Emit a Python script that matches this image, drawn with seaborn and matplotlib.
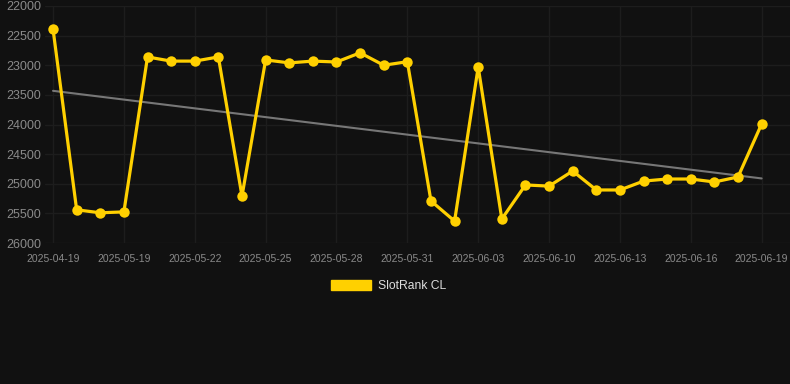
import numpy as np
import pandas as pd
import matplotlib
matplotlib.use("Agg")
import matplotlib.pyplot as plt
import seaborn as sns
from matplotlib.patches import Patch

# data (rank, lower is better -> inverted axis)
tick_labels = ["2025-04-19", "2025-05-19", "2025-05-22", "2025-05-25", "2025-05-28",
               "2025-05-31", "2025-06-03", "2025-06-10", "2025-06-13", "2025-06-16",
               "2025-06-19"]
rank_values = [22390, 25440, 25490, 25475, 22860, 22930, 22930, 22860, 25210, 22910,
               22960, 22930, 22945, 22790, 23000, 22940, 25290, 25630, 23030, 25595,
               25020, 25040, 24785, 25105, 25105, 24955, 24920, 24920, 24970, 24885,
               23990]
series_name = "SlotRank CL"

df = pd.DataFrame({"idx": np.arange(len(rank_values)), "rank": rank_values})

# linear trend over the series
coef = np.polyfit(df["idx"], df["rank"], 1)
df["trend"] = np.polyval(coef, df["idx"])

sns.set_theme(style="dark")
plt.rcParams["font.family"] = ["Liberation Sans", "DejaVu Sans"]

bg = "#111111"
gold = "#FFD000"
fig = plt.figure(figsize=(7.9, 3.84), dpi=100, facecolor=bg)
ax = fig.add_axes([45 / 790, 141 / 384, 745 / 790, 237 / 384])
ax.set_facecolor(bg)

sns.lineplot(data=df, x="idx", y="trend", ax=ax, color="#777777", linewidth=1.5)
sns.lineplot(data=df, x="idx", y="rank", ax=ax, color=gold, linewidth=2.3,
             marker="o", markersize=7.5, markeredgewidth=0)

ax.set_ylim(26000, 22000)
ax.set_yticks(np.arange(22000, 26001, 500))
ax.set_xlim(-0.34, 31.2)
ax.set_xticks(np.arange(0, len(rank_values), 3))
ax.set_xticklabels(tick_labels)
ax.grid(True, color="#1d1d1d", linewidth=1.0)
ax.tick_params(axis="y", colors="#8a8a8a", labelsize=9, length=0, pad=3)
ax.tick_params(axis="x", colors="#8a8a8a", labelsize=7.5, length=0, pad=8)
for s in ax.spines.values():
    s.set_visible(False)
ax.set_xlabel("")
ax.set_ylabel("")

handle = Patch(facecolor=gold, edgecolor=gold)
fig.legend([handle], [series_name], loc="center", bbox_to_anchor=(0.492, 1 - 286 / 384),
           frameon=False, handlelength=3.3, handleheight=0.9, fontsize=8.7,
           labelcolor="#dddddd", handletextpad=0.6)

fig.savefig("out.png", dpi=100, facecolor=bg)
